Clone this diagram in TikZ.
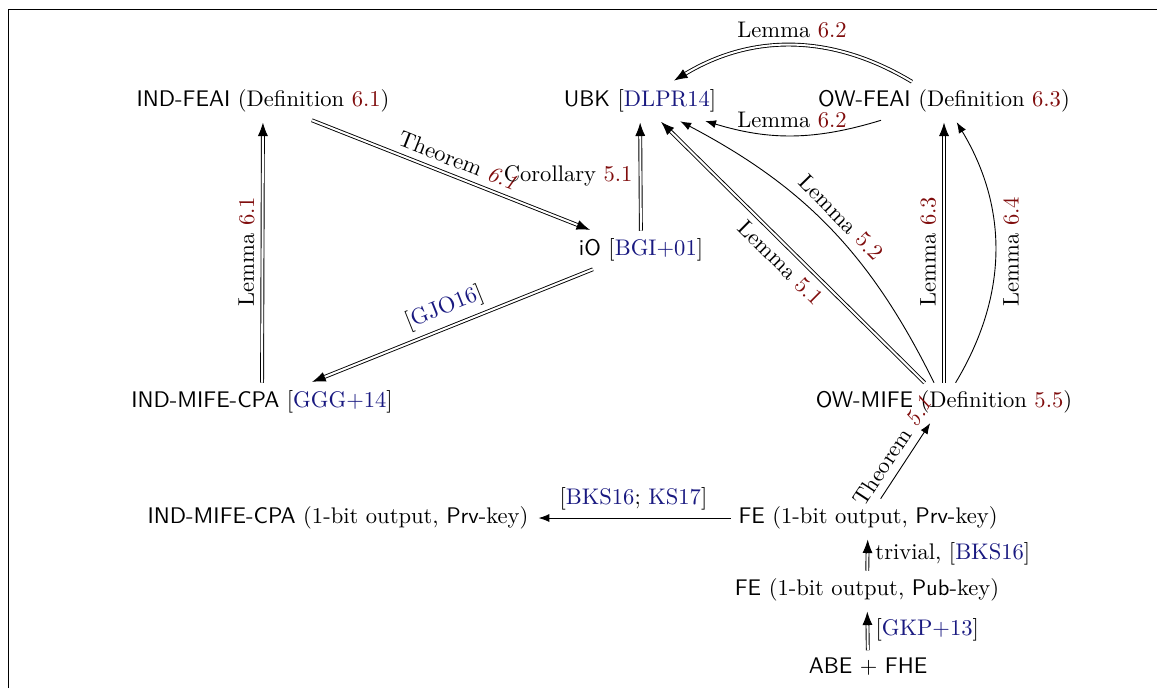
\documentclass[tikz,border=0pt]{standalone}
\usepackage{amsmath,amssymb}
\usepackage{tikz}
\usetikzlibrary{positioning,arrows.meta,calc}
\usepackage{xcolor}
\definecolor{refred}{rgb}{0.5,0.05,0.05}
\definecolor{citeblue}{rgb}{0.1,0.1,0.5}
\newcommand{\notion}[1]{\textsf{#1}}
\newcommand{\myref}[1]{\textcolor{refred}{#1}}
\newcommand{\mycite}[1]{[\textcolor{citeblue}{#1}]}
\tikzset{
  dimpl/.style={double,double distance=0.9pt},
  every edge/.style={draw,-{Latex},shorten >=1pt},
}

\begin{document}
\begin{tikzpicture}[x=0.01556cm,y=-0.01556cm]
\useasboundingbox (0,0) rectangle (1157,688);
\draw (8,688) |- (1157,9);

% notions, three columns and three rows
\node (feai) at (263,101) {\notion{IND-FEAI} (Definition \myref{6.1})};
\node (ubk) at (640,101) {\notion{UBK} \mycite{DLPR14}};
\node (owfeai) at (944,101) {\notion{OW-FEAI} (Definition \myref{6.3})};
\node (io) at (641,250) {\notion{iO} \mycite{BGI+01}};
\node (mifecpa) at (262,402) {\notion{IND-MIFE-CPA} \mycite{GGG+14}};
\node (owmife) at (944,402) {\notion{OW-MIFE} (Definition \myref{5.5})};

% FE chain at the bottom
\node (mifeone) at (338,518) {\notion{IND-MIFE-CPA} (1-bit output, \notion{Prv}-key)};
\node (feprv) at (868,518) {\notion{FE} (1-bit output, \notion{Prv}-key)};
\node (fepub) at (867,590) {\notion{FE} (1-bit output, \notion{Pub}-key)};
\node (abefhe) at (868,667) {\notion{ABE} $+$ \notion{FHE}};

% left triangle
\path
(mifecpa) edge[dimpl] node[above,sloped] {Lemma \myref{6.1}} (feai)
(feai) edge[dimpl] node[above,sloped] {Theorem \myref{\textit{6.1}}} (io)
(io) edge[dimpl] node[left] {Corollary \myref{5.1}} (ubk)
(io) edge[dimpl] node[above,sloped] {\mycite{GJO16}} (mifecpa);

% OW-FEAI to UBK
\path
(owfeai) edge[dimpl,bend right=31] node[above] {Lemma \myref{6.2}} (ubk)
(owfeai) edge[bend left=17] node[above] {Lemma \myref{6.2}} (ubk);

% out of OW-MIFE
\path
(owmife) edge[dimpl] node[below,sloped] {Lemma \myref{5.1}} (ubk)
(owmife) edge[bend right=18] node[above,sloped] {Lemma \myref{5.2}} (ubk)
(owmife) edge[dimpl] node[above,sloped] {Lemma \myref{6.3}} (owfeai)
(owmife) edge[bend right=31] node[below,sloped] {Lemma \myref{6.4}} (owfeai);

% bottom
\path
(feprv) edge node[above,sloped] {Theorem \myref{\textit{5.1}}} (owmife)
(feprv) edge node[above] {[\textcolor{citeblue}{BKS16}; \textcolor{citeblue}{KS17}]} (mifeone)
(fepub) edge[dimpl] node[right] {trivial, \mycite{BKS16}} (feprv)
(abefhe) edge[dimpl] node[right] {\mycite{GKP+13}} (fepub);

\end{tikzpicture}
\end{document}
